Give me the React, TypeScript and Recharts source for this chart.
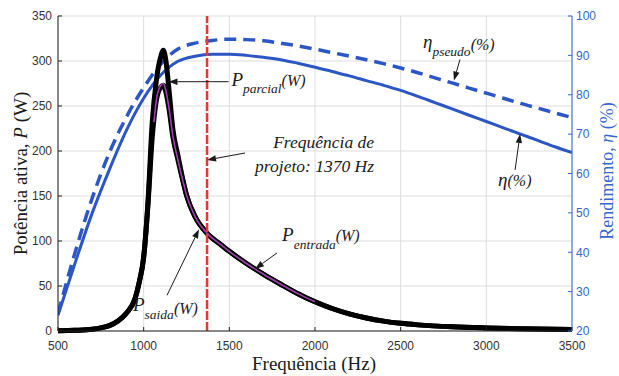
import React from 'react';
import { LineChart, Line, XAxis, YAxis, CartesianGrid, ReferenceLine, ReferenceDot } from 'recharts';

// Frequency sweep (Hz) for the power curves
const powerFreq = [500, 600, 700, 750, 800, 850, 900, 950, 975, 1000, 1025, 1050, 1075, 1100, 1115, 1130, 1150, 1170, 1200, 1230, 1250, 1300, 1370, 1450, 1500, 1600, 1700, 1800, 1900, 2000, 2100, 2200, 2300, 2400, 2500, 2600, 2800, 3000, 3200, 3500];
const pEntrada = [0.3, 0.8, 2, 3.5, 6, 11, 20, 36, 55, 82, 143, 232, 280, 305, 312, 300, 264, 225, 195, 167, 151, 127, 108.5, 96, 88.5, 75, 63, 52, 41.5, 32.5, 25, 19, 14.5, 11, 8.5, 6.8, 4.6, 3.4, 2.6, 1.8];
const pSaida = [0.3, 0.8, 2, 3.5, 6, 11, 20, 36, 55, 82, 140, 215, 257, 271, 273, 265, 244, 216, 190, 166, 151, 127, 108.5, 96, 88.5, 75, 63, 52, 41.5, 32.5, 25, 19, 14.5, 11, 8.5, 6.8, 4.6, 3.4, 2.6, 1.8];
const parcialFreq = [1060, 1075, 1100, 1115, 1130, 1150, 1170, 1200, 1230, 1250, 1300, 1370, 1450, 1500, 1600, 1700, 1800, 1900, 2000];
const pParcial = [232, 258, 273, 275, 267, 245, 217, 190, 166, 151, 127, 108.5, 96, 88.5, 75, 63, 52, 41.5, 32.5];

// Efficiency curves (%)
const effFreq = [500, 600, 700, 800, 900, 1000, 1100, 1200, 1300, 1400, 1500, 1600, 1700, 1800, 1900, 2000, 2100, 2200, 2300, 2400, 2500, 2600, 2700, 2800, 2900, 3000, 3100, 3200, 3300, 3400, 3500];
const eta = [24, 37.3, 50, 61, 71, 79.1, 85, 88.5, 89.8, 90.3, 90.3, 90.0, 89.5, 88.9, 88.0, 87.0, 85.9, 84.8, 83.6, 82.4, 81.1, 79.6, 78.0, 76.4, 74.8, 73.2, 71.6, 70.0, 68.4, 66.8, 65.3];
const etaPseudo = [24.5, 40, 53.8, 65.3, 74.4, 81.8, 87.8, 91.6, 93.1, 93.8, 94.1, 94.0, 93.7, 93.1, 92.4, 91.6, 90.7, 89.8, 88.9, 87.9, 86.8, 85.6, 84.3, 83.0, 81.7, 80.4, 79.1, 77.8, 76.6, 75.4, 74.2];

const freqTicks = [500, 1000, 1500, 2000, 2500, 3000, 3500];
const powerTicks = [0, 50, 100, 150, 200, 250, 300, 350];
const effTicks = [20, 30, 40, 50, 60, 70, 80, 90, 100];
const designFreq = 1370;

// Points the annotation arrows point at
const parcialTip = { f: 1145, p: 277 };
const designTip = { f: designFreq, p: 190 };
const entradaTip = { f: 1650, p: 69 };
const saidaTip = { f: 1323, p: 113 };
const pseudoTip = { f: 2811, e: 83.6 };
const etaTip = { f: 3197, e: 70.05 };

const toXY = (xs: number[], ys: number[]) => xs.map((f, i) => ({ f, v: ys[i] }));
const entradaData = toXY(powerFreq, pEntrada);
const saidaData = toXY(powerFreq, pSaida);
const parcialData = toXY(parcialFreq, pParcial);
const etaData = toXY(effFreq, eta);
const pseudoData = toXY(effFreq, etaPseudo);

const BLUE = '#2c56c4';
const AXIS_BLUE = '#3566cc';
const SERIF = "'Liberation Serif', 'DejaVu Serif', 'Noto Serif', Tinos, 'Times New Roman', Times, serif";
const SANS = "'Liberation Sans', Arial, Helvetica, sans-serif";
const noteStyle: React.CSSProperties = { fontFamily: SERIF, fontStyle: 'italic', fill: '#1a1a1a' };

function Arrow({ x0, y0, x1, y1 }: { x0: number; y0: number; x1: number; y1: number }) {
  const vx = x0 - x1;
  const vy = y0 - y1;
  const len = Math.hypot(vx, vy) || 1;
  const ux = vx / len;
  const uy = vy / len;
  const hl = 9;
  const hw = 3.2;
  const bx = x1 + ux * hl;
  const by = y1 + uy * hl;
  const nx = -uy;
  const ny = ux;
  return (
    <g>
      <line x1={x0} y1={y0} x2={bx} y2={by} stroke="#1a1a1a" strokeWidth={1} />
      <polygon
        points={`${x1},${y1} ${bx + nx * hw},${by + ny * hw} ${bx - nx * hw},${by - ny * hw}`}
        fill="#1a1a1a"
      />
    </g>
  );
}

type Pt = { cx?: number; cy?: number };

const parcialNote = ({ cx, cy }: Pt) =>
  cx == null || cy == null ? <g /> : (
    <g>
      <Arrow x0={cx + 60} y0={cy} x1={cx} y1={cy} />
      <text x={cx + 63} y={cy + 4} fontFamily={SERIF} fontStyle="italic" fill="#1a1a1a">
        <tspan fontSize={19}>P</tspan>
        <tspan fontSize={13.5} dy={7}>parcial</tspan>
        <tspan fontSize={16} dy={-7}>(W)</tspan>
      </text>
    </g>
  );

const designNote = ({ cx, cy }: Pt) =>
  cx == null || cy == null ? <g /> : (
    <g>
      <Arrow x0={cx + 38} y0={cy - 7} x1={cx} y1={cy} />
      <text x={cx + 167} y={cy - 12} textAnchor="end" fontSize={17.5} fontFamily={SERIF} fontStyle="italic" fill="#1a1a1a">Frequência de</text>
      <text x={cx + 167} y={cy + 12} textAnchor="end" fontSize={17.5} fontFamily={SERIF} fontStyle="italic" fill="#1a1a1a">projeto: 1370 Hz</text>
    </g>
  );

const entradaNote = ({ cx, cy }: Pt) =>
  cx == null || cy == null ? <g /> : (
    <g>
      <Arrow x0={cx + 22} y0={cy - 16} x1={cx} y1={cy} />
      <text x={cx + 27} y={cy - 28} fontFamily={SERIF} fontStyle="italic" fill="#1a1a1a">
        <tspan fontSize={19}>P</tspan>
        <tspan fontSize={13.5} dy={8}>entrada</tspan>
        <tspan fontSize={16} dy={-8}>(W)</tspan>
      </text>
    </g>
  );

const saidaNote = ({ cx, cy }: Pt) =>
  cx == null || cy == null ? <g /> : (
    <g>
      <Arrow x0={cx - 32} y0={cy + 66} x1={cx} y1={cy} />
      <text x={cx - 66} y={cy + 82} fontFamily={SERIF} fontStyle="italic" fill="#1a1a1a">
        <tspan fontSize={19}>P</tspan>
        <tspan fontSize={13.5} dy={8}>saida</tspan>
        <tspan fontSize={16} dy={-5}>(W)</tspan>
      </text>
    </g>
  );

const pseudoNote = ({ cx, cy }: Pt) =>
  cx == null || cy == null ? <g /> : (
    <g>
      <Arrow x0={cx + 6} y0={cy - 21} x1={cx} y1={cy} />
      <text x={cx - 31} y={cy - 33} fontFamily={SERIF} fontStyle="italic" fill="#1a1a1a">
        <tspan fontSize={19}>η</tspan>
        <tspan fontSize={13.5} dy={8}>pseudo</tspan>
        <tspan fontSize={16} dy={-6}>(%)</tspan>
      </text>
    </g>
  );

const etaNote = ({ cx, cy }: Pt) =>
  cx == null || cy == null ? <g /> : (
    <g>
      <Arrow x0={cx - 5} y0={cy + 36} x1={cx} y1={cy} />
      <text x={cx - 22} y={cy + 52} fontFamily={SERIF} fontStyle="italic" fill="#1a1a1a">
        <tspan fontSize={19}>η</tspan>
        <tspan fontSize={16}>(%)</tspan>
      </text>
    </g>
  );

export default function App() {
  return (
    <div style={{ position: 'absolute', left: 0, top: 0, width: 619, height: 376, background: '#ffffff' }}>
      <LineChart width={619} height={376} margin={{ top: 16, right: 0, bottom: 0, left: 0 }}>
        <CartesianGrid stroke="#dddddd" strokeWidth={1} yAxisId="left" />
        <XAxis
          dataKey="f"
          type="number"
          domain={[500, 3500]}
          ticks={freqTicks}
          allowDataOverflow
          height={45}
          stroke="#222"
          tickSize={-4}
          tickMargin={14.5}
          tick={{ fill: '#333', fontSize: 12, fontFamily: SANS }}
        />
        <YAxis
          yAxisId="left"
          domain={[0, 350]}
          ticks={powerTicks}
          width={58}
          stroke="#222"
          tickSize={-4}
          tickMargin={10}
          tick={{ fill: '#333', fontSize: 12, fontFamily: SANS }}
        />
        <YAxis
          yAxisId="right"
          orientation="right"
          domain={[20, 100]}
          ticks={effTicks}
          width={47}
          stroke={AXIS_BLUE}
          tickSize={-4}
          tickMargin={8}
          tick={{ fill: AXIS_BLUE, fontSize: 12, fontFamily: SANS }}
        />
        <Line yAxisId="right" data={etaData} dataKey="v" type="monotone" stroke={BLUE} strokeWidth={3} dot={false} isAnimationActive={false} />
        <Line yAxisId="right" data={pseudoData} dataKey="v" type="monotone" stroke={BLUE} strokeWidth={3.5} strokeDasharray="12 7" dot={false} isAnimationActive={false} />
        <Line yAxisId="left" data={entradaData} dataKey="v" type="monotone" stroke="#000" strokeWidth={5} dot={false} isAnimationActive={false} />
        <Line yAxisId="left" data={saidaData} dataKey="v" type="monotone" stroke="#000" strokeWidth={5} dot={false} isAnimationActive={false} />
        <Line yAxisId="left" data={parcialData} dataKey="v" type="monotone" stroke="#a040b0" strokeWidth={1.6} dot={false} isAnimationActive={false} />
        <ReferenceLine yAxisId="left" x={designFreq} stroke="#e53a2a" strokeWidth={2.5} strokeDasharray="9 2" />
        <ReferenceDot yAxisId="left" x={parcialTip.f} y={parcialTip.p} r={0} shape={parcialNote} ifOverflow="visible" />
        <ReferenceDot yAxisId="left" x={designTip.f} y={designTip.p} r={0} shape={designNote} ifOverflow="visible" />
        <ReferenceDot yAxisId="left" x={entradaTip.f} y={entradaTip.p} r={0} shape={entradaNote} ifOverflow="visible" />
        <ReferenceDot yAxisId="left" x={saidaTip.f} y={saidaTip.p} r={0} shape={saidaNote} ifOverflow="visible" />
        <ReferenceDot yAxisId="right" x={pseudoTip.f} y={pseudoTip.e} r={0} shape={pseudoNote} ifOverflow="visible" />
        <ReferenceDot yAxisId="right" x={etaTip.f} y={etaTip.e} r={0} shape={etaNote} ifOverflow="visible" />
      </LineChart>
      <svg width={619} height={376} style={{ position: 'absolute', left: 0, top: 0, pointerEvents: 'none' }}>
        <text x={20} y={173.5} transform="rotate(-90 20 173.5)" textAnchor="middle" dominantBaseline="central" fontFamily={SERIF} fontSize={19} fill="#1a1a1a">
          Potência ativa, <tspan fontStyle="italic">P</tspan> (W)
        </text>
        <text x={607} y={171} transform="rotate(-90 607 171)" textAnchor="middle" dominantBaseline="central" fontFamily={SERIF} fontSize={18} fill={AXIS_BLUE}>
          Rendimento, <tspan fontStyle="italic">η</tspan> (%)
        </text>
        <text x={314} y={370} textAnchor="middle" fontFamily={SERIF} fontSize={19} fill="#1a1a1a">
          Frequência (Hz)
        </text>
      </svg>
    </div>
  );
}
